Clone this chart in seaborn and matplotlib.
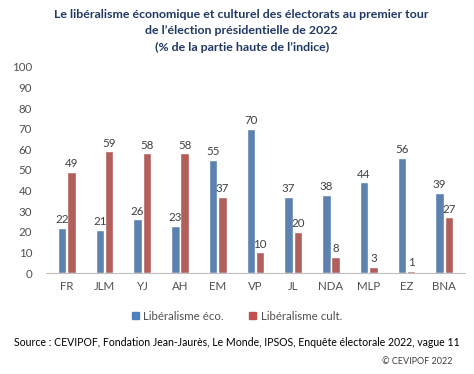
import pandas as pd
import seaborn as sns
import matplotlib
matplotlib.use('Agg')
import matplotlib.pyplot as plt

categories = ['FR', 'JLM', 'YJ', 'AH', 'EM', 'VP', 'JL', 'NDA', 'MLP', 'EZ', 'BNA']
lib_eco = [22, 21, 26, 23, 55, 70, 37, 38, 44, 56, 39]
lib_cult = [49, 59, 58, 58, 37, 10, 20, 8, 3, 1, 27]
series_names = ['Libéralisme éco.', 'Libéralisme cult.']

df = pd.DataFrame({
    'cat': categories * 2,
    'val': lib_eco + lib_cult,
    'serie': [series_names[0]] * len(categories) + [series_names[1]] * len(categories),
})

sns.set_style('white')
plt.rcParams['font.family'] = ['Lato', 'DejaVu Sans']
txt = '#505050'

fig = plt.figure(figsize=(4.74, 3.74), dpi=100)
ax = fig.add_axes([0.097, 0.27, 0.884, 0.551])

palette = {series_names[0]: '#4F81BD', series_names[1]: '#C0504D'}
sns.barplot(data=df, x='cat', y='val', hue='serie', palette=palette,
            width=0.5, gap=0.1, ax=ax, legend=False)

for cont in ax.containers:
    ax.bar_label(cont, padding=2, fontsize=8.3, color='#404040')

ax.set_ylim(0, 100)
ax.set_yticks(range(0, 101, 10))
ax.set_xlim(-0.55, len(categories) - 0.45)
ax.set_xlabel('')
ax.set_ylabel('')
ax.tick_params(axis='both', labelsize=8.3, colors=txt, length=0)
ax.tick_params(axis='y', pad=10)
ax.tick_params(axis='x', pad=6)
for s in ['top', 'right', 'left']:
    ax.spines[s].set_visible(False)
ax.spines['bottom'].set_color('#BFBFBF')

title_kw = dict(ha='center', va='center', fontsize=8.9, fontweight='bold', color='#1F3864')
fig.text(0.51, 0.962, 'Le libéralisme économique et culturel des électorats au premier tour', **title_kw)
fig.text(0.51, 0.918, 'de l\u2019élection présidentielle de 2022', **title_kw)
fig.text(0.51, 0.874, '(% de la partie haute de l\u2019indice)', **title_kw)

handles = [plt.Rectangle((0, 0), 1, 1, color=palette[n]) for n in series_names]
fig.legend(handles, series_names, loc='center', bbox_to_anchor=(0.5, 0.155), ncol=2,
           frameon=False, fontsize=8.3, labelcolor=txt, handlelength=0.6,
           handleheight=0.6, handletextpad=0.4, columnspacing=2.2)

fig.text(0.5, 0.083, 'Source : CEVIPOF, Fondation Jean-Jaurès, Le Monde, IPSOS, Enquête électorale 2022, vague 11',
         ha='center', va='center', fontsize=7.6, color='black')
fig.text(0.955, 0.033, '\u00a9 CEVIPOF 2022', ha='right', va='center', fontsize=6.5, color='#404040')

fig.savefig('out.png', dpi=100)
